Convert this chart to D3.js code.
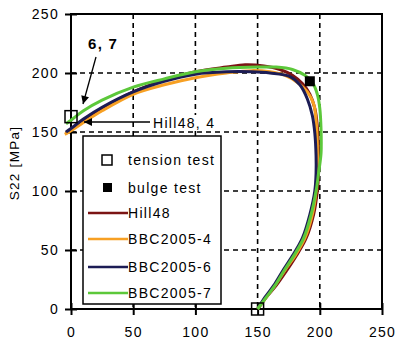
<!DOCTYPE html>
<html>
<head>
<meta charset="utf-8">
<script src="https://cdn.jsdelivr.net/npm/d3@7"></script>
<style>
  body { margin: 0; background: #fff; }
  text { font-family: "Liberation Sans", Arial, sans-serif; fill: #000; letter-spacing: 1.3px; }
</style>
</head>
<body>
<svg id="chart" width="396" height="345"></svg>
<script>
// yield loci, S11 / S22 in MPa
var hill48 = [[-4,149],[0,152],[10,160],[25,170],[50,184],[75,194],[100,201],[125,205],[140,207],[155,206],[168,203],[178,198],[186,191],[192,182],[196,170],[198,155],[199,135],[199,115],[198,100],[195,80],[189,60],[181,45],[173,32],[165,20],[157,10],[150,0]];
var bbc4 = [[-5,148],[0,151],[10,158],[25,168],[50,182],[75,190],[100,196],[125,200],[145,202],[160,201],[172,198],[182,192],[190,184],[195,174],[197,160],[198,140],[198,120],[197,100],[194,80],[188,60],[180,45],[172,33],[164,20],[157,10],[150,0]];
var bbc6 = [[-4,150],[0,153],[10,161],[25,171],[50,184],[75,193],[100,199],[125,201],[145,201],[160,200],[176,197],[184,190],[190,178],[194,164],[196,149],[197,130],[197,115],[196,100],[192,80],[186,60],[178,45],[170,32],[163,20],[156,10],[150,0]];
var bbc7 = [[-4,157],[0,160],[10,168],[25,177],[50,188],[75,195],[100,201],[125,204],[150,205],[165,205],[178,203],[188,198],[194,192],[198,182],[200,170],[201,152],[201,132],[199,115],[197,100],[193,80],[187,60],[179,45],[171,32],[164,20],[157,10],[150,0]];
var tension = [[0,163],[150,0]];
var bulge = [[192,193]];

var seriesNames = ["Hill48","BBC2005-4","BBC2005-6","BBC2005-7"];
var seriesColors = ["#7b1414","#f7a023","#1c1c55","#5cc83a"];
var seriesData = [hill48, bbc4, bbc6, bbc7];
var ticks = [0,50,100,150,200,250];

var svg = d3.select("#chart");
var m = {top: 14, right: 14, bottom: 36, left: 71};
var w = 396 - m.left - m.right, h = 345 - m.top - m.bottom;
var g = svg.append("g").attr("transform","translate("+m.left+","+m.top+")");

var x = d3.scaleLinear().domain([0,250]).range([0,w]);
var y = d3.scaleLinear().domain([0,250]).range([h,0]);

// dashed grid
g.selectAll(".vg").data(ticks.slice(1,5)).enter().append("line")
  .attr("x1",d=>x(d)).attr("x2",d=>x(d)).attr("y1",0).attr("y2",h)
  .attr("stroke","#000").attr("stroke-width",1.6).attr("stroke-dasharray","5,4");
g.selectAll(".hg").data(ticks.slice(1,5)).enter().append("line")
  .attr("y1",d=>y(d)).attr("y2",d=>y(d)).attr("x1",0).attr("x2",w)
  .attr("stroke","#000").attr("stroke-width",1.6).attr("stroke-dasharray","5,4");

// frame
g.append("rect").attr("width",w).attr("height",h)
  .attr("fill","none").attr("stroke","#000").attr("stroke-width",2);

var xa = g.append("g").attr("transform","translate(0,"+h+")")
  .call(d3.axisBottom(x).tickValues(ticks).tickSize(6).tickPadding(12));
var ya = g.append("g")
  .call(d3.axisLeft(y).tickValues(ticks).tickSize(6).tickPadding(6));
[xa,ya].forEach(function(a){
  a.select(".domain").remove();
  a.selectAll("line").attr("stroke","#000").attr("stroke-width",2);
  a.selectAll("text").style("font-size","14px").attr("fill","#000");
});
xa.selectAll(".tick line").attr("y1",-6);
ya.selectAll(".tick line").attr("x1",6);

// curves
var line = d3.line().x(d=>x(d[0])).y(d=>y(d[1])).curve(d3.curveCatmullRom);
seriesData.forEach(function(s,i){
  g.append("path").attr("d",line(s)).attr("fill","none")
    .attr("stroke",seriesColors[i]).attr("stroke-width",3).attr("stroke-linejoin","round");
});

// test points
g.selectAll(".ten").data(tension).enter().append("rect")
  .attr("x",d=>x(d[0])-6).attr("y",d=>y(d[1])-6).attr("width",12).attr("height",12)
  .attr("fill","none").attr("stroke","#000").attr("stroke-width",1.5);
g.selectAll(".bul").data(bulge).enter().append("rect")
  .attr("x",d=>x(d[0])-5).attr("y",d=>y(d[1])-5).attr("width",10).attr("height",10)
  .attr("fill","#000");

// arrows
svg.append("defs").append("marker").attr("id","ah")
  .attr("viewBox","0 0 10 10").attr("refX",10).attr("refY",5)
  .attr("markerWidth",10).attr("markerHeight",8).attr("markerUnits","userSpaceOnUse")
  .attr("orient","auto")
  .append("path").attr("d","M0,0L10,5L0,10z").attr("fill","#000");

svg.append("line").attr("x1",96).attr("y1",57).attr("x2",83).attr("y2",104)
  .attr("stroke","#000").attr("stroke-width",1.3).attr("marker-end","url(#ah)");
svg.append("text").attr("x",88).attr("y",49).style("font-size","15px")
  .style("font-weight","bold").text("6, 7");

svg.append("rect").attr("x",151).attr("y",115).attr("width",66).attr("height",16).attr("fill","#fff");
svg.append("line").attr("x1",150).attr("y1",122).attr("x2",84).attr("y2",122)
  .attr("stroke","#000").attr("stroke-width",1.3).attr("marker-end","url(#ah)");
svg.append("text").attr("x",153).attr("y",128).style("font-size","14px").text("Hill48, 4");

// legend
var lg = svg.append("g").attr("transform","translate(83,136)");
lg.append("rect").attr("width",138).attr("height",168)
  .attr("fill","#fff").attr("stroke","#000").attr("stroke-width",1.5);
var rowY = [24,52,77,103,131,157];
lg.append("rect").attr("x",19).attr("y",rowY[0]-5).attr("width",10).attr("height",10)
  .attr("fill","none").attr("stroke","#000").attr("stroke-width",1.5);
lg.append("rect").attr("x",20).attr("y",rowY[1]-5).attr("width",9).attr("height",9).attr("fill","#000");
lg.append("text").attr("x",45).attr("y",rowY[0]+5).style("font-size","14px").text("tension test");
lg.append("text").attr("x",45).attr("y",rowY[1]+5).style("font-size","14px").text("bulge test");
seriesNames.forEach(function(n,i){
  var yy = rowY[i+2];
  lg.append("line").attr("x1",5).attr("x2",45).attr("y1",yy).attr("y2",yy)
    .attr("stroke",seriesColors[i]).attr("stroke-width",2.5);
  lg.append("text").attr("x",45).attr("y",yy+5).style("font-size","14px").text(n);
});

// y label
svg.append("text").attr("transform","translate(19,163) rotate(-90)")
  .attr("text-anchor","middle").style("font-size","13.5px").text("S22 [MPa]");
</script>
</body>
</html>
